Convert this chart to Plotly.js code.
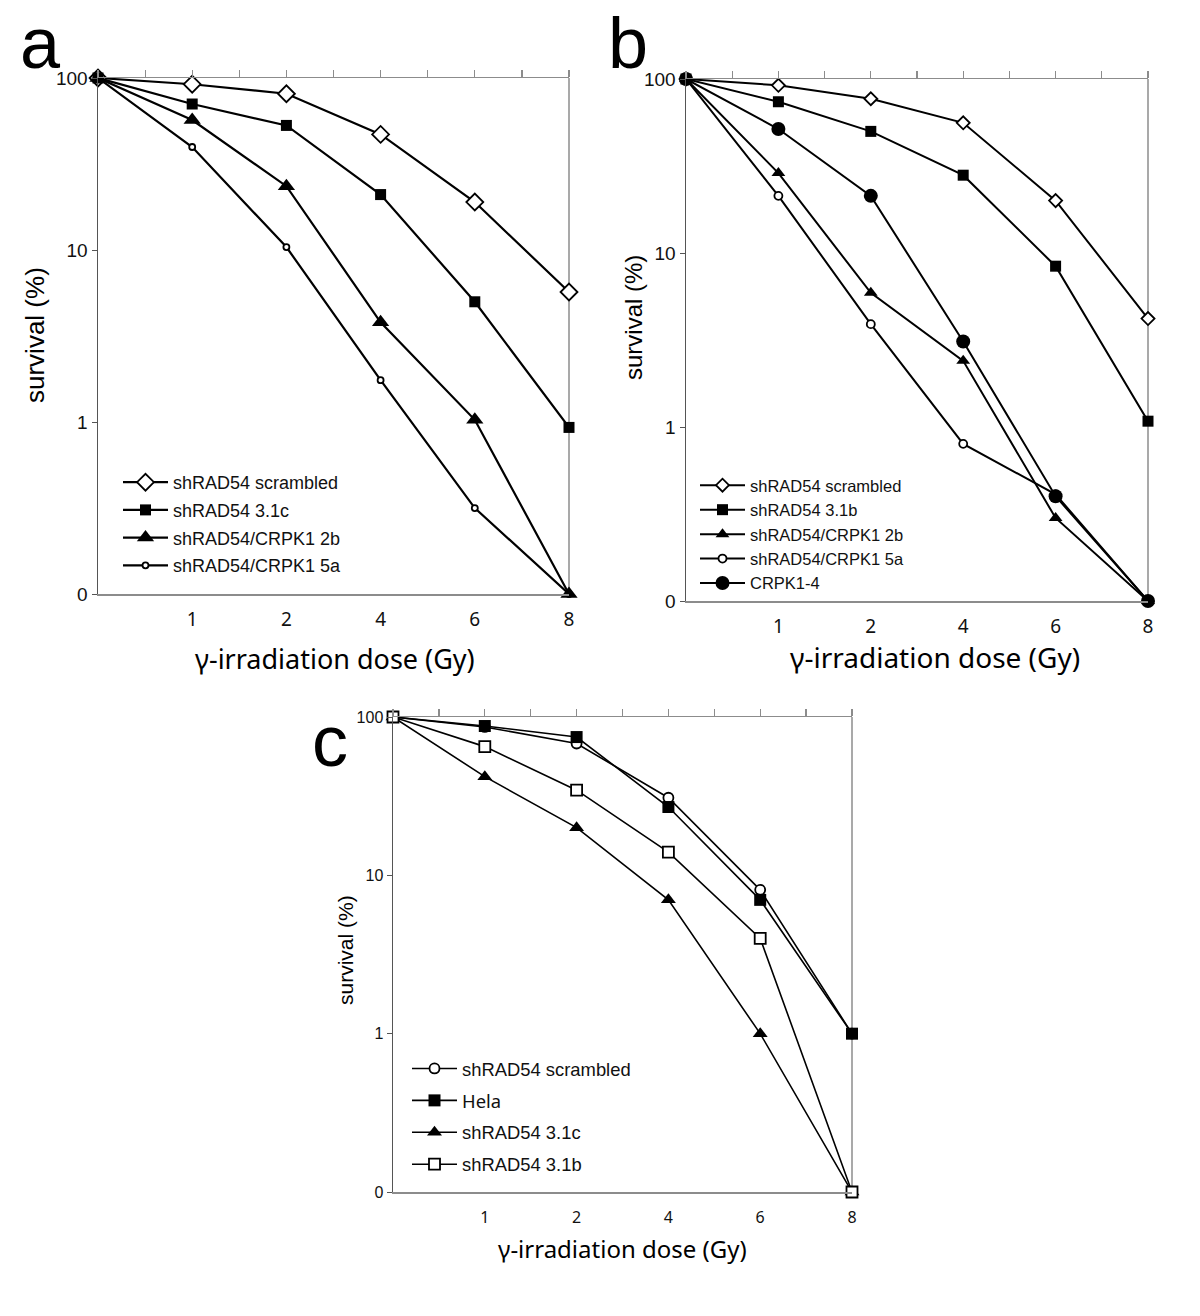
<!DOCTYPE html>
<html>
<head>
<meta charset="utf-8">
<script src="https://cdn.plot.ly/plotly-3.0.1.min.js"></script>
<style>
  body { margin: 0; background: #fff; }
  #chart { width: 1200px; height: 1316px; }
</style>
</head>
<body>
<div id="chart"></div>
<script>
// x categories (dose, Gy) - the first one sits on the y axis and is not labelled
const doses = ['0', '1', '2', '4', '6', '8'];
const doseTicks = ['1', '2', '4', '6', '8'];
// log axis: the bottom decade (0.1) is labelled "0" like the original
const survivalTicks = [0.1, 1, 10, 100];
const survivalTickText = ['0', '1', '10', '100'];

// panel a
const aScrambled = [100, 92, 81, 47, 19, 5.7];
const a31c = [100, 70.6, 53, 21, 5.0, 0.93];
const a2b = [100, 57, 23.5, 3.8, 1.03, 0.1];
const a5a = [100, 39.7, 10.4, 1.75, 0.316, 0.1];

// panel b
const bScrambled = [100, 92, 77, 56, 20, 4.2];
const b31b = [100, 74, 50, 28, 8.4, 1.08];
const b2b = [100, 28.8, 5.9, 2.4, 0.30, 0.1];
const b5a = [100, 21.3, 3.9, 0.8, 0.41, 0.1];
const bCrpk = [100, 51.6, 21.3, 3.1, 0.40, 0.1];

// panel c
const cScrambled = [100, 86.5, 68, 30.9, 8.1, 1.0];
const cHela = [100, 87.7, 74.7, 27, 7.0, 1.0];
const c31c = [100, 42, 20, 7.0, 1.0, 0.1];
const c31b = [100, 65, 34.5, 14, 4.0, 0.1];

const W = 1200, H = 1316;
const px = x => x / W;
const py = y => 1 - y / H;

// one line+marker series
function series(name, y, n, rank, symbol, size, lw, open) {
    return {
        x: doses,
        y: y,
        name: name,
        xaxis: 'x' + n,
        yaxis: 'y' + n,
        legend: n === 1 ? 'legend' : 'legend' + n,
        legendgroup: name + n,
        legendrank: rank,
        type: 'scatter',
        mode: 'lines+markers',
        cliponaxis: false,
        line: { color: '#000', width: lw },
        marker: {
            symbol: symbol,
            size: size,
            color: open ? '#fff' : '#000',
            line: { color: '#000', width: open ? 1.8 : 0 }
        }
    };
}

const data = [
    series('shRAD54 scrambled', aScrambled, 1, 1, 'diamond', 13, 2.2, true),
    series('shRAD54 3.1c', a31c, 1, 2, 'square', 11, 2.2, false),
    series('shRAD54/CRPK1 5a', a5a, 1, 4, 'circle', 6, 2.2, true),
    series('shRAD54/CRPK1 2b', a2b, 1, 3, 'triangle-up', 15, 2.2, false),

    series('shRAD54 scrambled', bScrambled, 2, 1, 'diamond', 10, 2, true),
    series('shRAD54 3.1b', b31b, 2, 2, 'square', 11, 2, false),
    series('shRAD54/CRPK1 2b', b2b, 2, 3, 'triangle-up', 12, 2, false),
    series('shRAD54/CRPK1 5a', b5a, 2, 4, 'circle', 8, 2, true),
    series('CRPK1-4', bCrpk, 2, 5, 'circle', 14, 2, false),

    series('shRAD54 scrambled', cScrambled, 3, 1, 'circle', 10, 1.6, true),
    series('<span style="font-family:Noto Sans">Hela</span>', cHela, 3, 2, 'square', 12, 1.6, false),
    series('shRAD54 3.1c', c31c, 3, 3, 'triangle-up', 13, 1.6, false),
    series('shRAD54 3.1b', c31b, 3, 4, 'square', 11, 1.6, true)
];

// plot frames in page pixels: left, right, top, bottom
const frames = [
    { l: 98, r: 569, t: 78, b: 594, tick: 19, stand: 8, legend: [118, 464], lfont: 18, gap: 1.3 },
    { l: 686, r: 1148, t: 79, b: 601, tick: 19, stand: 8, legend: [695, 468], lfont: 16.5, gap: 0 },
    { l: 393, r: 852, t: 717, b: 1192, tick: 16, stand: 10, legend: [407, 1050], lfont: 18.4, gap: 5 }
];

const layout = {
    width: W,
    height: H,
    margin: { l: 0, r: 0, t: 0, b: 0 },
    paper_bgcolor: '#fff',
    plot_bgcolor: '#fff',
    showlegend: true,
    shapes: [],
    annotations: []
};

frames.forEach((f, i) => {
    const n = i + 1;
    const xs = n === 1 ? '' : n;
    const dom = [px(f.l), px(f.r)];
    layout['xaxis' + xs] = {
        type: 'category',
        domain: dom,
        anchor: 'y' + xs,
        range: [0, 5],
        tickmode: 'array',
        tickvals: doseTicks,
        ticktext: doseTicks,
        ticks: '',
        ticklabelstandoff: f.stand,
        tickfont: { family: 'Noto Sans', size: f.tick, color: '#111' },
        showline: true,
        linecolor: '#8c8c8c',
        linewidth: 1.5,
        showgrid: false,
        zeroline: false
    };
    // top edge with tick marks every half category
    layout['xaxis' + (n + 3)] = {
        type: 'linear',
        overlaying: 'x' + xs,
        anchor: 'y' + xs,
        side: 'top',
        range: [0, 5],
        tick0: 0,
        dtick: 0.5,
        ticks: 'outside',
        ticklen: 7,
        tickwidth: 1.2,
        tickcolor: '#8c8c8c',
        showticklabels: false,
        showline: true,
        linecolor: '#8c8c8c',
        linewidth: 1.5,
        showgrid: false,
        zeroline: false
    };
    // empty trace so the top axis is drawn
    data.push({ type: 'scatter', x: [], y: [], xaxis: 'x' + (n + 3), yaxis: 'y' + xs,
        showlegend: false, hoverinfo: 'skip' });
    layout['yaxis' + xs] = {
        type: 'log',
        domain: [py(f.b), py(f.t)],
        anchor: 'x' + xs,
        range: [-1, 2],
        tickmode: 'array',
        tickvals: survivalTicks,
        ticktext: survivalTickText,
        ticks: 'outside',
        ticklen: 5,
        tickcolor: '#555',
        tickfont: { family: 'Liberation Sans', size: f.tick, color: '#111' },
        showline: true,
        linecolor: '#555',
        linewidth: 1.5,
        showgrid: false,
        zeroline: false
    };
    // right border
    layout.shapes.push({
        type: 'line', layer: 'below',
        xref: 'x' + xs + ' domain', yref: 'y' + xs + ' domain',
        x0: 1, x1: 1, y0: 0, y1: 1,
        line: { color: '#8c8c8c', width: 1.5 }
    });
    layout[n === 1 ? 'legend' : 'legend' + n] = {
        x: px(f.legend[0]),
        y: py(f.legend[1]),
        xanchor: 'left',
        yanchor: 'top',
        bgcolor: 'rgba(0,0,0,0)',
        borderwidth: 0,
        traceorder: 'grouped',
        tracegroupgap: f.gap,
        itemwidth: 45,
        font: { family: 'Liberation Sans', size: f.lfont, color: '#111' }
    };
});

// axis titles and panel letters
const notes = [
    { text: 'survival (%)', x: 35, y: 335, size: 26, angle: -90, font: 'Liberation Sans' },
    { text: 'survival (%)', x: 633, y: 318, size: 24, angle: -90, font: 'Liberation Sans' },
    { text: 'survival (%)', x: 345, y: 950, size: 21, angle: -90, font: 'Liberation Sans' },
    { text: 'γ-irradiation dose (Gy)', x: 335, y: 658, size: 27, angle: 0, font: 'Noto Sans' },
    { text: 'γ-irradiation dose (Gy)', x: 935, y: 657, size: 28, angle: 0, font: 'Noto Sans' },
    { text: 'γ-irradiation dose (Gy)', x: 622, y: 1248, size: 24, angle: 0, font: 'Noto Sans' },
    { text: 'a', x: 40, y: 42.6, size: 72, angle: 0, font: 'Liberation Sans' },
    { text: 'b', x: 628, y: 42.6, size: 72, angle: 0, font: 'Liberation Sans' },
    { text: 'c', x: 330, y: 740.6, size: 72, angle: 0, font: 'Liberation Sans' }
];
notes.forEach(a => {
    layout.annotations.push({
        text: a.text,
        xref: 'paper', yref: 'paper',
        x: px(a.x), y: py(a.y),
        xanchor: 'center', yanchor: 'middle',
        textangle: a.angle,
        showarrow: false,
        font: { family: a.font, size: a.size, color: '#000' }
    });
});

Plotly.newPlot('chart', data, layout, { staticPlot: true });
</script>
</body>
</html>
